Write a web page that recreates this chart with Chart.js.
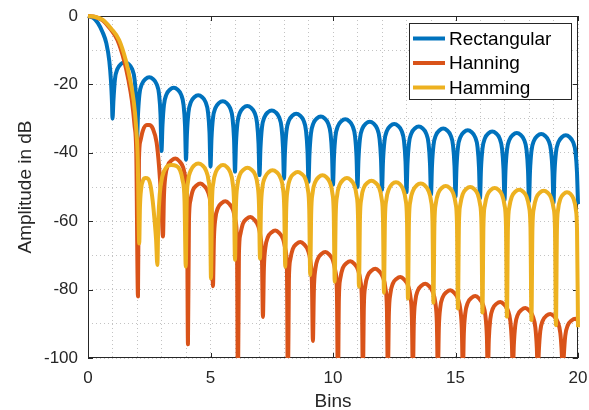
<!DOCTYPE html>
<html lang="en">
<head>
<meta charset="UTF-8">
<title>Window spectra</title>
<style>
  html, body { margin: 0; padding: 0; background: #ffffff; }
  #chart { display: block; }
</style>
</head>
<body>
<canvas id="chart" width="589" height="410"></canvas>
<script src="https://cdn.jsdelivr.net/npm/chart.js"></script>
<script>
// values (bins, dB)
const seriesNames = ['Rectangular', 'Hanning', 'Hamming'];
const xTickLabels = [0, 5, 10, 15, 20];
const yTickLabels = [0, -20, -40, -60, -80, -100];

const rectBins = [
  0, 0.2, 0.4, 0.6, 0.75, 0.87, 0.94, 0.98, 1,
  1.04, 1.1, 1.2, 1.35, 1.5, 1.65, 1.8, 1.9, 1.96, 2,
  2.04, 2.1, 2.2, 2.35, 2.5, 2.65, 2.8, 2.9, 2.96, 3,
  3.04, 3.1, 3.2, 3.35, 3.5, 3.65, 3.8, 3.9, 3.96, 4,
  4.04, 4.1, 4.2, 4.35, 4.5, 4.65, 4.8, 4.9, 4.96, 5,
  5.04, 5.1, 5.2, 5.35, 5.5, 5.65, 5.8, 5.9, 5.96, 6,
  6.04, 6.1, 6.2, 6.35, 6.5, 6.65, 6.8, 6.9, 6.96, 7,
  7.04, 7.1, 7.2, 7.35, 7.5, 7.65, 7.8, 7.9, 7.96, 8,
  8.04, 8.1, 8.2, 8.35, 8.5, 8.65, 8.8, 8.9, 8.96, 9,
  9.04, 9.1, 9.2, 9.35, 9.5, 9.65, 9.8, 9.9, 9.96, 10,
  10.04, 10.1, 10.2, 10.35, 10.5, 10.65, 10.8, 10.9, 10.96, 11,
  11.04, 11.1, 11.2, 11.35, 11.5, 11.65, 11.8, 11.9, 11.96, 12,
  12.04, 12.1, 12.2, 12.35, 12.5, 12.65, 12.8, 12.9, 12.96, 13,
  13.04, 13.1, 13.2, 13.35, 13.5, 13.65, 13.8, 13.9, 13.96, 14,
  14.04, 14.1, 14.2, 14.35, 14.5, 14.65, 14.8, 14.9, 14.96, 15,
  15.04, 15.1, 15.2, 15.35, 15.5, 15.65, 15.8, 15.9, 15.96, 16,
  16.04, 16.1, 16.2, 16.35, 16.5, 16.65, 16.8, 16.9, 16.96, 17,
  17.04, 17.1, 17.2, 17.35, 17.5, 17.65, 17.8, 17.9, 17.96, 18,
  18.04, 18.1, 18.2, 18.35, 18.5, 18.65, 18.8, 18.9, 18.96, 19,
  19.04, 19.1, 19.2, 19.35, 19.5, 19.65, 19.8, 19.9, 19.96, 20
];
const rectDb = [
  0, -0.5, -2.0, -4.8, -8.0, -13.2, -19.3, -25.5, -30,
  -24.5, -18.5, -15.5, -14, -13.5, -14, -15.5, -18.5, -24.5, -36,
  -28.9, -22.9, -19.9, -18.4, -17.9, -18.4, -19.9, -22.9, -28.9, -39.5,
  -32, -26, -23, -21.5, -21, -21.5, -23, -26, -32, -42,
  -34.2, -28.2, -25.2, -23.7, -23.2, -23.7, -25.2, -28.2, -34.2, -44,
  -35.9, -29.9, -26.9, -25.4, -24.9, -25.4, -26.9, -29.9, -35.9, -45.5,
  -37.3, -31.3, -28.3, -26.8, -26.3, -26.8, -28.3, -31.3, -37.3, -46.5,
  -38.6, -32.6, -29.6, -28.1, -27.6, -28.1, -29.6, -32.6, -38.6, -47.5,
  -39.6, -33.6, -30.6, -29.1, -28.6, -29.1, -30.6, -33.6, -39.6, -48.5,
  -40.4, -34.4, -31.4, -29.9, -29.4, -29.9, -31.4, -34.4, -40.4, -49.3,
  -41.2, -35.2, -32.2, -30.7, -30.2, -30.7, -32.2, -35.2, -41.2, -50,
  -41.9, -35.9, -32.9, -31.4, -30.9, -31.4, -32.9, -35.9, -41.9, -50.8,
  -42.6, -36.6, -33.6, -32.1, -31.6, -32.1, -33.6, -36.6, -42.6, -51.5,
  -43.3, -37.3, -34.3, -32.8, -32.3, -32.8, -34.3, -37.3, -43.3, -52.2,
  -43.9, -37.9, -34.9, -33.4, -32.9, -33.4, -34.9, -37.9, -43.9, -52.8,
  -44.4, -38.4, -35.4, -33.9, -33.4, -33.9, -35.4, -38.4, -44.4, -53.3,
  -44.8, -38.8, -35.8, -34.3, -33.8, -34.3, -35.8, -38.8, -44.8, -53.8,
  -45.2, -39.2, -36.2, -34.7, -34.2, -34.7, -36.2, -39.2, -45.2, -54.2,
  -45.5, -39.5, -36.5, -35, -34.5, -35, -36.5, -39.5, -45.5, -54.6,
  -45.9, -39.9, -36.9, -35.4, -34.9, -35.4, -36.9, -39.9, -45.9, -55
];

const hannBins = [
  0, 0.3, 0.59, 0.9, 1.2, 1.47, 1.65, 1.79, 1.9, 1.97, 2.04,
  2.08, 2.14, 2.24, 2.4, 2.5, 2.65, 2.8, 2.9, 2.99, 3.06,
  3.1, 3.16, 3.26, 3.42, 3.57, 3.72, 3.88, 3.98, 4.04, 4.08,
  4.12, 4.18, 4.28, 4.44, 4.59, 4.74, 4.9, 5.0, 5.06, 5.1,
  5.14, 5.2, 5.3, 5.46, 5.61, 5.76, 5.92, 6.02, 6.08, 6.12,
  6.16, 6.22, 6.32, 6.48, 6.63, 6.78, 6.94, 7.04, 7.1, 7.14,
  7.18, 7.24, 7.34, 7.5, 7.65, 7.8, 7.96, 8.06, 8.12, 8.16,
  8.2, 8.26, 8.36, 8.52, 8.67, 8.82, 8.98, 9.08, 9.14, 9.18,
  9.22, 9.28, 9.38, 9.54, 9.69, 9.84, 10.0, 10.1, 10.16, 10.2,
  10.24, 10.3, 10.4, 10.56, 10.71, 10.86, 11.02, 11.12, 11.18, 11.22,
  11.26, 11.32, 11.42, 11.58, 11.73, 11.88, 12.04, 12.14, 12.2, 12.24,
  12.28, 12.34, 12.44, 12.6, 12.75, 12.9, 13.06, 13.16, 13.22, 13.26,
  13.3, 13.36, 13.46, 13.62, 13.77, 13.92, 14.08, 14.18, 14.24, 14.28,
  14.32, 14.38, 14.48, 14.64, 14.79, 14.94, 15.1, 15.2, 15.26, 15.3,
  15.34, 15.4, 15.5, 15.66, 15.81, 15.96, 16.12, 16.22, 16.28, 16.32,
  16.36, 16.42, 16.52, 16.68, 16.83, 16.98, 17.14, 17.24, 17.3, 17.34,
  17.38, 17.44, 17.54, 17.7, 17.85, 18.0, 18.16, 18.26, 18.32, 18.36,
  18.4, 18.46, 18.56, 18.72, 18.87, 19.02, 19.18, 19.28, 19.34, 19.38,
  19.42, 19.48, 19.58, 19.74, 19.89, 20
];
const hannDb = [
  0, -0.3, -1.2, -3.7, -7.0, -12.9, -18.7, -24.6, -32, -40, -82,
  -42, -36.5, -33.5, -31.9, -31.9, -33, -37, -44, -53.8, -64.5,
  -52.7, -46.7, -43.7, -42.2, -41.7, -42.4, -44.2, -47.4, -53.4, -96,
  -60, -54, -51, -49.5, -49, -49.7, -51.5, -54.7, -60.7, -79,
  -65.2, -59.2, -56.2, -54.7, -54.2, -54.9, -56.7, -59.9, -65.9, -110,
  -69.8, -63.8, -60.8, -59.3, -58.8, -59.5, -61.3, -64.5, -70.5, -88,
  -73.7, -67.7, -64.7, -63.2, -62.7, -63.4, -65.2, -68.4, -74.4, -110,
  -77.1, -71.1, -68.1, -66.6, -66.1, -66.8, -68.6, -71.8, -77.8, -95,
  -80, -74, -71, -69.5, -69, -69.7, -71.5, -74.7, -80.7, -110,
  -82.7, -76.7, -73.7, -72.2, -71.7, -72.4, -74.2, -77.4, -83.4, -105,
  -84.9, -78.9, -75.9, -74.4, -73.9, -74.6, -76.4, -79.6, -85.6, -105,
  -87.3, -81.3, -78.3, -76.8, -76.3, -77, -78.8, -82, -88, -105,
  -89.3, -83.3, -80.3, -78.8, -78.3, -79, -80.8, -84, -90, -105,
  -91.2, -85.2, -82.2, -80.7, -80.2, -80.9, -82.7, -85.9, -91.9, -105,
  -92.9, -86.9, -83.9, -82.4, -81.9, -82.6, -84.4, -87.6, -93.6, -105,
  -94.6, -88.6, -85.6, -84.1, -83.6, -84.3, -86.1, -89.3, -95.3, -105,
  -96.4, -90.4, -87.4, -85.9, -85.4, -86.1, -87.9, -91.1, -97.1, -105,
  -98.1, -92.1, -89.1, -87.6, -87.1, -87.8, -89.6, -92.8, -98.8, -106,
  -99.5, -93.5, -90.5, -89, -88.5, -89
];

const hammBins = [
  0, 0.3, 0.62, 0.95, 1.27, 1.54, 1.72, 1.86, 1.96, 2.03, 2.09,
  2.12, 2.17, 2.25, 2.35, 2.45, 2.55, 2.64, 2.72, 2.78, 2.83,
  2.87, 2.93, 3.03, 3.2, 3.4, 3.6, 3.75, 3.86, 3.94, 3.99,
  4.03, 4.09, 4.2, 4.35, 4.5, 4.66, 4.81, 4.92, 4.98, 5.02,
  5.06, 5.12, 5.22, 5.36, 5.51, 5.66, 5.8, 5.9, 5.96, 6.0,
  6.04, 6.1, 6.2, 6.36, 6.51, 6.66, 6.82, 6.92, 6.98, 7.02,
  7.06, 7.12, 7.23, 7.38, 7.53, 7.69, 7.84, 7.95, 8.01, 8.05,
  8.09, 8.15, 8.25, 8.41, 8.56, 8.71, 8.87, 8.97, 9.03, 9.07,
  9.11, 9.17, 9.27, 9.42, 9.57, 9.72, 9.87, 9.97, 10.03, 10.07,
  10.11, 10.17, 10.27, 10.42, 10.57, 10.71, 10.86, 10.96, 11.02, 11.06,
  11.1, 11.16, 11.26, 11.42, 11.57, 11.72, 11.88, 11.98, 12.04, 12.08,
  12.12, 12.18, 12.28, 12.42, 12.57, 12.72, 12.86, 12.96, 13.02, 13.06,
  13.1, 13.16, 13.27, 13.42, 13.58, 13.74, 13.89, 14.0, 14.06, 14.1,
  14.14, 14.2, 14.3, 14.45, 14.6, 14.75, 14.9, 15.0, 15.06, 15.1,
  15.14, 15.2, 15.3, 15.45, 15.6, 15.75, 15.9, 16.0, 16.06, 16.1,
  16.14, 16.2, 16.3, 16.45, 16.6, 16.75, 16.9, 17.0, 17.06, 17.1,
  17.14, 17.2, 17.3, 17.45, 17.6, 17.75, 17.9, 18.0, 18.06, 18.1,
  18.14, 18.2, 18.3, 18.45, 18.6, 18.75, 18.9, 19.0, 19.06, 19.1,
  19.14, 19.19, 19.28, 19.42, 19.55, 19.69, 19.82, 19.91, 19.96, 20
];
const hammDb = [
  0, -0.3, -1.2, -3.7, -7.0, -12.9, -18.7, -24.6, -32, -42, -66.5,
  -56, -50.5, -48, -47.4, -47.6, -49.5, -54, -60, -65.5, -72.8,
  -60, -52, -47, -44.2, -43.6, -43.8, -45, -48, -54, -73.3,
  -54.1, -48.1, -45.1, -43.6, -43.1, -43.6, -45.1, -48.1, -54.1, -76.7,
  -54.6, -48.6, -45.6, -44.1, -43.6, -44.1, -45.6, -48.6, -54.6, -71.3,
  -55.4, -49.4, -46.4, -44.9, -44.4, -44.9, -46.4, -49.4, -55.4, -70.9,
  -56.1, -50.1, -47.1, -45.6, -45.1, -45.6, -47.1, -50.1, -56.1, -73.3,
  -56.6, -50.6, -47.6, -46.1, -45.6, -46.1, -47.6, -50.6, -56.6, -75.7,
  -57.6, -51.6, -48.6, -47.1, -46.6, -47.1, -48.6, -51.6, -57.6, -77.7,
  -58.4, -52.4, -49.4, -47.9, -47.4, -47.9, -49.4, -52.4, -58.4, -79.2,
  -59.2, -53.2, -50.2, -48.7, -48.2, -48.7, -50.2, -53.2, -59.2, -80.9,
  -59.6, -53.6, -50.6, -49.1, -48.6, -49.1, -50.6, -53.6, -59.6, -82.6,
  -60, -54, -51, -49.5, -49, -49.5, -51, -54, -60, -83.8,
  -60.7, -54.7, -51.7, -50.2, -49.7, -50.2, -51.7, -54.7, -60.7, -85.5,
  -61, -55, -52, -50.5, -50, -50.5, -52, -55, -61, -86.7,
  -61.3, -55.3, -52.3, -50.8, -50.3, -50.8, -52.3, -55.3, -61.3, -87.9,
  -61.8, -55.8, -52.8, -51.3, -50.8, -51.3, -52.8, -55.8, -61.8, -88.9,
  -62.1, -56.1, -53.1, -51.6, -51.1, -51.6, -53.1, -56.1, -62.1, -90.4,
  -62.5, -56.5, -53.5, -52, -51.5, -52, -53.5, -56.5, -62.5, -91
];

const colors = ['#0072BD', '#D95319', '#EDB120'];
const axisColor = '#262626';
const fontFamily = '"Liberation Sans", Arial, Helvetica, sans-serif';

function points(xs, ys) {
    return xs.map((x, i) => ({ x: x, y: ys[i] }));
}

// axes box with inward ticks, like the original figure
const frame = {
    id: 'frame',
    beforeDatasetsDraw(chart) {
        const { ctx, chartArea: a, scales: { x, y } } = chart;
        ctx.save();
        ctx.strokeStyle = axisColor;
        ctx.lineWidth = 1;
        ctx.strokeRect(a.left + 0.5, a.top + 0.5, a.width - 1, a.height - 1);
        ctx.beginPath();
        xTickLabels.forEach(v => {
            const px = Math.round(x.getPixelForValue(v)) + 0.5;
            ctx.moveTo(px, a.bottom); ctx.lineTo(px, a.bottom - 5);
            ctx.moveTo(px, a.top); ctx.lineTo(px, a.top + 5);
        });
        yTickLabels.forEach(v => {
            const py = Math.round(y.getPixelForValue(v)) + 0.5;
            ctx.moveTo(a.left, py); ctx.lineTo(a.left + 5, py);
            ctx.moveTo(a.right, py); ctx.lineTo(a.right - 5, py);
        });
        ctx.stroke();
        ctx.restore();
    }
};

// legend box in the upper right corner of the axes
const legendBox = {
    id: 'legendBox',
    afterDraw(chart) {
        const { ctx, chartArea: a } = chart;
        const right = a.right - 6, top = a.top + 7, w = 163, h = 77;
        const left = right - w;
        ctx.save();
        ctx.fillStyle = '#ffffff';
        ctx.fillRect(left, top, w, h);
        ctx.strokeStyle = axisColor;
        ctx.lineWidth = 1;
        ctx.strokeRect(left + 0.5, top + 0.5, w - 1, h - 1);
        chart.data.datasets.forEach((ds, i) => {
            const yy = top + 15.5 + i * 24.5;
            ctx.strokeStyle = ds.borderColor;
            ctx.lineWidth = 4;
            ctx.beginPath();
            ctx.moveTo(left + 4, yy);
            ctx.lineTo(left + 36, yy);
            ctx.stroke();
            ctx.fillStyle = '#000000';
            ctx.font = '19px ' + fontFamily;
            ctx.textBaseline = 'middle';
            ctx.fillText(ds.label, left + 40, yy + 1);
        });
        ctx.restore();
    }
};

const ctx = document.getElementById('chart').getContext('2d');
new Chart(ctx, {
    type: 'line',
    data: {
        datasets: [
            { label: seriesNames[0], data: points(rectBins, rectDb), borderColor: colors[0], order: 3 },
            { label: seriesNames[1], data: points(hannBins, hannDb), borderColor: colors[1], order: 2 },
            { label: seriesNames[2], data: points(hammBins, hammDb), borderColor: colors[2], order: 1 }
        ]
    },
    options: {
        responsive: false,
        animation: false,
        devicePixelRatio: 1,
        datasets: {
            line: {
                borderWidth: 4,
                pointRadius: 0,
                cubicInterpolationMode: 'monotone',
                fill: false,
                borderJoinStyle: 'round',
                clip: { left: 3, top: 3, right: 3, bottom: 0 }
            }
        },
        layout: { padding: { left: 0, top: 16, right: 11, bottom: 0 } },
        plugins: {
            legend: { display: false },
            tooltip: { enabled: false }
        },
        scales: {
            x: {
                type: 'linear',
                min: 0,
                max: 20,
                ticks: {
                    stepSize: 1,
                    autoSkip: false,
                    maxRotation: 0,
                    maxTicksLimit: 50,
                    padding: 10,
                    color: axisColor,
                    font: { family: fontFamily, size: 17 },
                    callback: v => xTickLabels.includes(v) ? String(v) : ''
                },
                grid: { color: 'rgba(38,38,38,0.28)', lineWidth: 1, drawTicks: false },
                border: { display: false, dash: [1, 3] },
                title: {
                    display: true,
                    text: 'Bins',
                    color: axisColor,
                    font: { family: fontFamily, size: 19, lineHeight: 0.9 },
                    padding: { top: 0, bottom: 0 }
                },
                afterFit: s => { s.height = 52; s.paddingLeft = 0; s.paddingRight = 0; }
            },
            y: {
                type: 'linear',
                min: -100,
                max: 0,
                ticks: {
                    stepSize: 10,
                    maxTicksLimit: 50,
                    padding: 10,
                    color: axisColor,
                    font: { family: fontFamily, size: 17 },
                    callback: v => yTickLabels.includes(v) ? String(v) : ''
                },
                grid: { color: 'rgba(38,38,38,0.28)', lineWidth: 1, drawTicks: false },
                border: { display: false, dash: [1, 3] },
                title: {
                    display: true,
                    text: 'Amplitude in dB',
                    color: axisColor,
                    font: { family: fontFamily, size: 19, lineHeight: 0.9 },
                    padding: { top: 17, bottom: 0 }
                },
                afterFit: s => { s.width = 88; s.paddingTop = 0; s.paddingBottom = 0; }
            }
        }
    },
    plugins: [frame, legendBox]
});
</script>
</body>
</html>
